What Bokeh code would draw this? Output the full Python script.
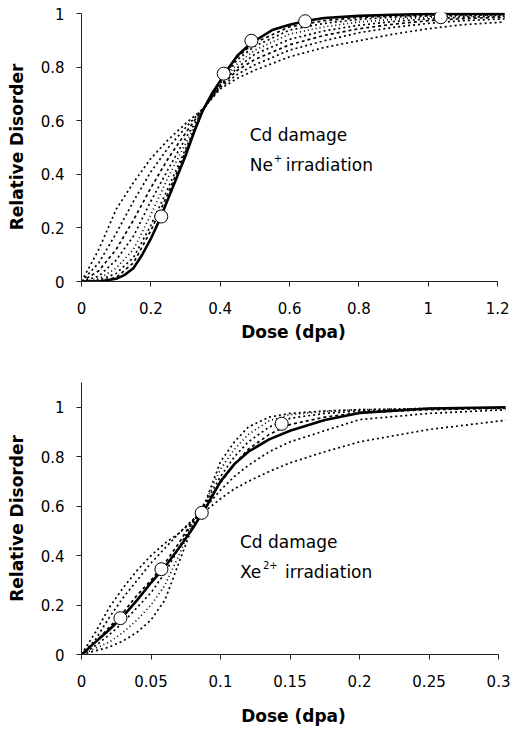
from bokeh.plotting import figure
from bokeh.layouts import column
from bokeh.models import Range1d, FixedTicker
from bokeh.embed import file_html
from bokeh.resources import INLINE
from bokeh.core.properties import value

# ---------------- Top panel: Cd damage, Ne+ irradiation ----------------
ne_fit_dose = [0, 0.05, 0.1, 0.125, 0.15, 0.175, 0.2, 0.225, 0.25, 0.275, 0.3, 0.325, 0.35, 0.375,
               0.4, 0.425, 0.45, 0.475, 0.5, 0.55, 0.6, 0.65, 0.7, 0.8, 0.9, 1.0, 1.22]
ne_fit = [0, 0, 0.01, 0.025, 0.05, 0.1, 0.16, 0.23, 0.31, 0.39, 0.47, 0.56, 0.64, 0.70,
          0.75, 0.80, 0.845, 0.875, 0.9, 0.94, 0.96, 0.975, 0.985, 0.993, 0.997, 1.0, 1.0]
ne_dose = [0, 0.05, 0.1, 0.15, 0.2, 0.25, 0.3, 0.35, 0.4, 0.45, 0.5, 0.6, 0.7, 0.8, 0.9, 1.0, 1.1, 1.22]
ne_sim_1 = [0, 0.12, 0.27, 0.37, 0.46, 0.53, 0.59, 0.645, 0.72, 0.76, 0.79, 0.84, 0.875, 0.90, 0.925, 0.945, 0.96, 0.97]
ne_sim_2 = [0, 0.07, 0.18, 0.30, 0.41, 0.50, 0.575, 0.645, 0.725, 0.775, 0.81, 0.865, 0.90, 0.93, 0.95, 0.965, 0.975, 0.982]
ne_sim_3 = [0, 0.04, 0.12, 0.23, 0.35, 0.46, 0.555, 0.645, 0.73, 0.79, 0.83, 0.885, 0.92, 0.945, 0.962, 0.975, 0.983, 0.988]
ne_sim_4 = [0, 0.02, 0.08, 0.17, 0.30, 0.42, 0.535, 0.64, 0.735, 0.80, 0.85, 0.905, 0.937, 0.958, 0.972, 0.982, 0.988, 0.992]
ne_sim_5 = [0, 0.01, 0.05, 0.12, 0.25, 0.39, 0.515, 0.64, 0.74, 0.815, 0.865, 0.925, 0.952, 0.97, 0.98, 0.988, 0.992, 0.995]
ne_sim_6 = [0, 0.005, 0.03, 0.09, 0.21, 0.35, 0.495, 0.64, 0.745, 0.83, 0.88, 0.94, 0.965, 0.98, 0.988, 0.992, 0.995, 0.997]
ne_sim_7 = [0, 0.002, 0.015, 0.07, 0.19, 0.33, 0.485, 0.64, 0.748, 0.84, 0.893, 0.952, 0.975, 0.987, 0.993, 0.996, 0.998, 0.999]
ne_exp_dose = [0.23, 0.41, 0.49, 0.645, 1.036]
ne_exp_disorder = [0.243, 0.777, 0.90, 0.973, 0.988]
ne_xticks = [0, 0.2, 0.4, 0.6, 0.8, 1.0, 1.2]
ne_xlabels = ["0", "0.2", "0.4", "0.6", "0.8", "1", "1.2"]

# ---------------- Bottom panel: Cd damage, Xe2+ irradiation ----------------
xe_dose = [0, 0.01, 0.02, 0.03, 0.04, 0.05, 0.06, 0.07, 0.08, 0.09, 0.1, 0.11, 0.12, 0.135, 0.15, 0.175, 0.2, 0.25, 0.306]
xe_fit = [0, 0.05, 0.10, 0.155, 0.22, 0.29, 0.355, 0.43, 0.51, 0.60, 0.70, 0.77, 0.82, 0.87, 0.905, 0.948, 0.977, 0.995, 1.0]
xe_sim_1 = [0, 0.09, 0.19, 0.27, 0.34, 0.40, 0.45, 0.49, 0.54, 0.585, 0.63, 0.67, 0.70, 0.74, 0.775, 0.82, 0.86, 0.91, 0.948]
xe_sim_2 = [0, 0.06, 0.15, 0.23, 0.30, 0.37, 0.43, 0.49, 0.545, 0.60, 0.665, 0.72, 0.765, 0.82, 0.86, 0.905, 0.95, 0.975, 0.99]
xe_sim_3 = [0, 0.05, 0.11, 0.17, 0.24, 0.30, 0.37, 0.45, 0.54, 0.615, 0.695, 0.77, 0.83, 0.89, 0.93, 0.96, 0.978, 0.99, 0.996]
xe_sim_4 = [0, 0.035, 0.08, 0.13, 0.19, 0.25, 0.33, 0.43, 0.535, 0.62, 0.72, 0.80, 0.86, 0.92, 0.955, 0.975, 0.985, 0.993, 0.997]
xe_sim_5 = [0, 0.025, 0.05, 0.09, 0.14, 0.20, 0.28, 0.40, 0.53, 0.625, 0.75, 0.83, 0.89, 0.945, 0.97, 0.983, 0.99, 0.995, 0.998]
xe_sim_6 = [0, 0.015, 0.03, 0.055, 0.09, 0.14, 0.22, 0.37, 0.52, 0.63, 0.78, 0.86, 0.92, 0.96, 0.975, 0.985, 0.99, 0.995, 0.998]
xe_exp_dose = [0.028, 0.0575, 0.0865, 0.144]
xe_exp_disorder = [0.147, 0.345, 0.573, 0.933]
xe_xticks = [0, 0.05, 0.1, 0.15, 0.2, 0.25, 0.3]
xe_xlabels = ["0", "0.05", "0.1", "0.15", "0.2", "0.25", "0.3"]

y_ticks = [0, 0.2, 0.4, 0.6, 0.8, 1.0]
y_labels = ["0", "0.2", "0.4", "0.6", "0.8", "1"]

FONT = "DejaVu Sans"


def style_axes(p, xticks, xlabels, x_title_standoff):
    for ax in (p.xaxis[0], p.yaxis[0]):
        ax.axis_line_color = "#222222"
        ax.axis_line_width = 1
        ax.major_tick_line_color = "#222222"
        ax.major_tick_out = 5
        ax.major_tick_in = 0
        ax.minor_tick_line_color = None
        ax.major_label_text_font = FONT
        ax.major_label_text_font_size = "15px"
        ax.major_label_text_color = "#000000"
        ax.axis_label_text_font = FONT
        ax.axis_label_text_font_size = "17px"
        ax.axis_label_text_font_style = "bold"
        ax.axis_label_text_color = "#000000"
    p.xaxis.ticker = FixedTicker(ticks=xticks)
    p.xaxis.major_label_overrides = {t: l for t, l in zip(xticks, xlabels)}
    p.xaxis.major_label_standoff = 15
    p.xaxis.axis_label = "Dose (dpa)"
    p.xaxis.axis_label_standoff = x_title_standoff
    p.yaxis.ticker = FixedTicker(ticks=y_ticks)
    p.yaxis.major_label_overrides = {t: l for t, l in zip(y_ticks, y_labels)}
    p.yaxis.major_label_standoff = 12
    p.yaxis.axis_label = "Relative Disorder"
    p.yaxis.axis_label_standoff = 11
    p.xgrid.visible = False
    p.ygrid.visible = False
    p.outline_line_color = None


def draw(p, dose, sims, fit_dose, fit, exp_x, exp_y):
    dashes = ["2 3", "2 3", "3 3", "2 3", "1 3", "2 3", "3 3"]
    for i, s in enumerate(sims):
        p.line(dose, s, line_color="black", line_width=1.7, line_dash=dashes[i % len(dashes)])
    p.line(fit_dose, fit, line_color="black", line_width=2.6)
    p.scatter(exp_x, exp_y, size=13, fill_color="white", line_color="black", line_width=1)


def annotate(p, x, y1, y2, ion, sup, sup_dx, rest_dx):
    common = dict(text_font=value(FONT), text_color="black", text_baseline="middle", text_align="left")
    p.text(x=[x], y=[y1], text=["Cd damage"], text_font_size=value("17px"), **common)
    p.text(x=[x], y=[y2], text=[ion], text_font_size=value("17px"), **common)
    p.text(x=[x], y=[y2], text=[sup], text_font_size=value("10px"), x_offset=sup_dx, y_offset=-7, **common)
    p.text(x=[x], y=[y2], text=["irradiation"], text_font_size=value("17px"), x_offset=rest_dx, **common)


# ---- top figure ----
p1 = figure(width=516, height=351, output_backend="svg", toolbar_location=None,
            x_range=Range1d(0, 1.2227), y_range=Range1d(0, 1.0056),
            min_border_left=81, min_border_right=4, min_border_top=12, min_border_bottom=70,
            background_fill_color="white", border_fill_color="white")
style_axes(p1, ne_xticks, ne_xlabels, 5)
p1.xaxis.bounds = (0, 1.2)
p1.yaxis.bounds = (0, 1.0)
draw(p1, ne_dose,
     [ne_sim_1, ne_sim_2, ne_sim_3, ne_sim_4, ne_sim_5, ne_sim_6, ne_sim_7],
     ne_fit_dose, ne_fit, ne_exp_dose, ne_exp_disorder)
annotate(p1, 0.485, 0.548, 0.437, "Ne", "+", 24, 36)

# ---- bottom figure ----
p2 = figure(width=516, height=377, output_backend="svg", toolbar_location=None,
            x_range=Range1d(0, 0.305), y_range=Range1d(0, 1.1),
            min_border_left=81, min_border_right=11, min_border_top=31, min_border_bottom=74,
            background_fill_color="white", border_fill_color="white")
style_axes(p2, xe_xticks, xe_xlabels, 16)
p2.xaxis.bounds = (0, 0.3)
draw(p2, xe_dose,
     [xe_sim_1, xe_sim_2, xe_sim_3, xe_sim_4, xe_sim_5, xe_sim_6],
     xe_dose, xe_fit, xe_exp_dose, xe_exp_disorder)
annotate(p2, 0.114, 0.453, 0.332, "Xe", "2+", 23, 45)

layout = column(p1, p2, spacing=0)
open("out.html", "w").write(file_html(layout, INLINE))
